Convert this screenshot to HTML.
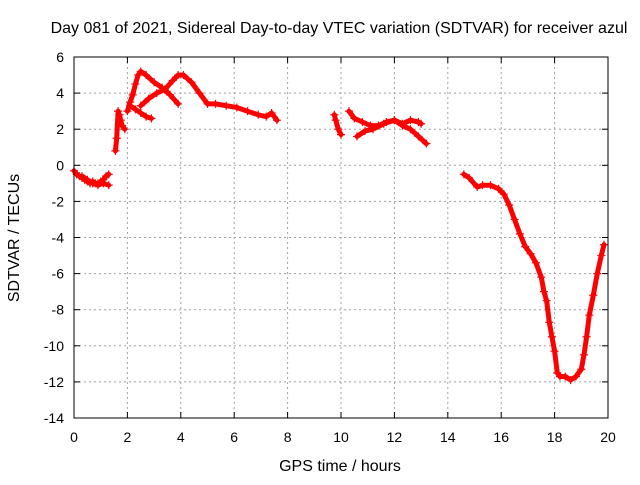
<!DOCTYPE html>
<html><head><meta charset="utf-8"><style>
body{margin:0;background:#fff;}
svg text{font-family:"Liberation Sans",sans-serif;font-size:14px;fill:#000;}
svg text.big{font-size:16px;}
</style></head><body>
<svg id="chart" width="640" height="480">
<rect x="0" y="0" width="640" height="480" fill="#fff"/>
<text class="big" x="339" y="33" text-anchor="middle">Day 081 of 2021, Sidereal Day-to-day VTEC variation (SDTVAR) for receiver azul</text>
<text class="big" x="340" y="471" text-anchor="middle">GPS time / hours</text>
<text class="big" transform="translate(19,238) rotate(-90)" text-anchor="middle">SDTVAR / TECUs</text>
<g id="grid"></g><g id="ticks"></g><g id="series"></g>
<rect x="74" y="57" width="534" height="361" fill="none" stroke="#000"/>
</svg>
<script>
const xTicks=[0,2,4,6,8,10,12,14,16,18,20];
const yTicks=[6,4,2,0,-2,-4,-6,-8,-10,-12,-14];
const seg1x=[0,0.1,0.2,0.3,0.4,0.5,0.6,0.7,0.8,0.9,1.0,1.1,1.2,1.3];
const seg1y=[-0.3,-0.5,-0.6,-0.7,-0.8,-0.9,-1.0,-0.9,-1.0,-1.0,-0.9,-0.8,-0.6,-0.5];
const seg1bx=[0.3,0.5,0.7,0.9,1.1,1.3];
const seg1by=[-0.6,-0.8,-1.0,-1.1,-1.0,-1.1];
const seg2x=[1.55,1.6,1.65,1.7,1.75,1.8,1.9];
const seg2y=[0.8,1.5,3.0,2.8,2.5,2.2,2.0];
const seg3x=[2.0,2.1,2.2,2.3,2.4,2.5,2.7,3.0,3.3,3.6,3.9];
const seg3y=[3.0,3.5,3.9,4.5,5.0,5.2,5.0,4.6,4.3,3.9,3.4];
const seg4x=[2.1,2.3,2.5,2.7,2.9];
const seg4y=[3.3,3.1,2.9,2.7,2.6];
const seg5x=[2.5,2.8,3.1,3.4,3.7,3.9,4.1,4.4,4.7,5.0,5.3,5.7,6.1,6.5,6.9,7.2,7.4,7.6];
const seg5y=[3.3,3.7,4.0,4.2,4.7,5.0,5.0,4.6,4.0,3.4,3.4,3.3,3.2,3.0,2.8,2.7,2.9,2.5];
const seg6x=[9.75,9.8,9.9,10.0];
const seg6y=[2.8,2.5,2.0,1.7];
const seg7x=[10.3,10.5,10.8,11.1,11.4,11.7,12.0,12.3,12.6,12.9,13.0];
const seg7y=[3.0,2.6,2.4,2.2,2.2,2.4,2.5,2.3,2.5,2.4,2.3];
const seg8x=[10.6,10.9,11.2,11.6,12.0,12.3,12.6,12.9,13.2];
const seg8y=[1.6,1.9,2.0,2.3,2.5,2.2,2.0,1.6,1.2];
const seg9x=[14.6,14.8,15.1,15.3,15.6,15.9,16.1,16.3,16.5,16.7,16.9,17.1,17.3,17.5,17.6,17.7,17.8,17.9,18.0,18.1,18.2,18.4,18.6,18.8,19.0,19.1,19.2,19.3,19.45,19.6,19.75,19.85];
const seg9y=[-0.5,-0.7,-1.2,-1.1,-1.1,-1.3,-1.6,-2.2,-3.0,-3.8,-4.5,-4.9,-5.4,-6.2,-7.0,-7.5,-8.7,-9.5,-10.3,-11.5,-11.7,-11.7,-11.9,-11.7,-11.3,-10.5,-9.5,-8.3,-7.2,-6.0,-5.0,-4.4];
const series=[[seg1x,seg1y],[seg1bx,seg1by],[seg2x,seg2y],[seg3x,seg3y],[seg4x,seg4y],[seg5x,seg5y],[seg6x,seg6y],[seg7x,seg7y],[seg8x,seg8y],[seg9x,seg9y]];
const X0=74,X1=608,Y0=418,Y1=57;
function sx(v){return X0+(v-0)/(20-0)*(X1-X0);}
function sy(v){return Y0-(v+14)/(6+14)*(Y0-Y1);}
const NS="http://www.w3.org/2000/svg";
function mk(t,a,p){const e=document.createElementNS(NS,t);for(const k in a)e.setAttribute(k,a[k]);p.appendChild(e);return e;}
const grid=document.getElementById('grid'),ticks=document.getElementById('ticks'),ser=document.getElementById('series');
xTicks.forEach(v=>{const x=sx(v);
 if(v>0&&v<20){const l=mk('line',{x1:x,y1:Y1,x2:x,y2:Y0,stroke:'#a0a0a0','stroke-dasharray':'2,3','stroke-width':1},grid);
 
 }
 mk('line',{x1:x,y1:Y0,x2:x,y2:Y0-6,stroke:'#000'},ticks);
 mk('line',{x1:x,y1:Y1,x2:x,y2:Y1+6,stroke:'#000'},ticks);
 const t=mk('text',{x:x,y:Y0+24,'text-anchor':'middle'},ticks);t.textContent=v;
 
 });
yTicks.forEach(v=>{const y=sy(v);
 if(v>-14&&v<6){const l=mk('line',{x1:X0,y1:y,x2:X1,y2:y,stroke:'#a0a0a0','stroke-dasharray':'2,3','stroke-width':1},grid);
 
 }
 mk('line',{x1:X0,y1:y,x2:X0+6,y2:y,stroke:'#000'},ticks);
 mk('line',{x1:X1,y1:y,x2:X1-6,y2:y,stroke:'#000'},ticks);
 const t=mk('text',{x:X0-10,y:y+5,'text-anchor':'end'},ticks);t.textContent=v;
 
 });
series.forEach(([xs,ys])=>{
 const d=xs.map((v,i)=>(i?'L':'M')+sx(v).toFixed(1)+','+sy(ys[i]).toFixed(1)).join('');
 const p=mk('path',{d:d,fill:'none',stroke:'#f00','stroke-width':5,'stroke-linejoin':'round','stroke-linecap':'round'},ser);
 
 
 xs.forEach((v,i)=>{const x=sx(v),y=sy(ys[i]);
  const m=mk('path',{d:`M${x-4},${y}h8M${x},${y-4}v8`,stroke:'#f00','stroke-width':1.2},ser);
  
  });
});
</script>
</body></html>
